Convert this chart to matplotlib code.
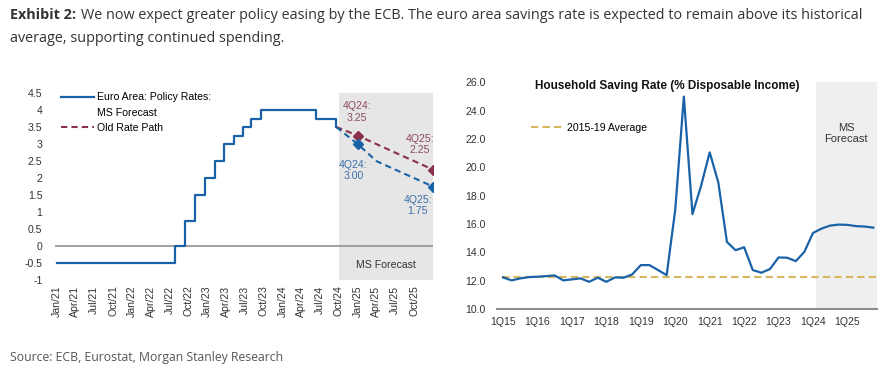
import numpy as np
import pandas as pd
import matplotlib
matplotlib.use('Agg')
import matplotlib.pyplot as plt
import matplotlib.dates as mdates
from matplotlib.lines import Line2D

plt.rcParams['font.family'] = ['Liberation Sans Narrow', 'Liberation Sans', 'DejaVu Sans']

# ---- left panel: ECB policy rate ----
rate_dates = ['2021-01-01', '2022-07-27', '2022-09-14', '2022-11-02', '2022-12-21',
              '2023-02-08', '2023-03-22', '2023-05-10', '2023-06-21', '2023-08-02',
              '2023-09-20', '2024-06-12', '2024-09-18']
rate_vals = [-0.5, 0.0, 0.75, 1.5, 2.0, 2.5, 3.0, 3.25, 3.5, 3.75, 4.0, 3.75, 3.5]

fcst_dates = ['2024-09-18', '2024-12-31', '2025-03-31', '2025-06-30', '2025-09-30', '2025-12-31']
ms_fcst = [3.5, 3.0, 2.5, 2.25, 2.0, 1.75]
old_path = [3.5, 3.25, 3.0, 2.75, 2.5, 2.25]

month_ticks = pd.date_range('2021-01-01', '2025-10-01', freq='3MS')

# ---- right panel: household saving rate ----
sav_quarters = [f'{q}Q{y:02d}' for y in range(15, 26) for q in range(1, 5)]
sav_rate = [12.23, 12.02, 12.16, 12.25, 12.28, 12.32, 12.37, 12.02, 12.09, 12.16,
            11.92, 12.21, 11.92, 12.23, 12.21, 12.44, 13.1, 13.1, 12.75, 12.39,
            17.0, 25.0, 16.7, 18.7, 21.06, 18.94, 14.74, 14.15, 14.36, 12.75,
            12.56, 12.82, 13.64, 13.62, 13.38, 14.04, 15.37, 15.68, 15.89, 15.96,
            15.94, 15.85, 15.82, 15.75]
avg_15_19 = 12.27

BLUE = '#1a62a8'
RED = '#8a3048'
GOLD = '#d8b660'
TXT = '#333333'
FS = 7.6

fig = plt.figure(figsize=(8.95, 3.77), dpi=100)

fig.text(0.011, 0.960, 'Exhibit 2:', fontsize=10.4, fontweight='bold', color=TXT,
         family='Open Sans', va='center')
fig.text(0.091, 0.960, 'We now expect greater policy easing by the ECB. The euro area savings rate is '
         'expected to remain above its historical', fontsize=10.4, color=TXT, family='Open Sans',
         va='center')
fig.text(0.011, 0.898, 'average, supporting continued spending.', fontsize=10.4, color=TXT,
         family='Open Sans', va='center')
fig.text(0.011, 0.053, 'Source: ECB, Eurostat, Morgan Stanley Research', fontsize=8.8,
         color='#555555', family='Open Sans', va='center')

# left
ax1 = fig.add_axes([0.0615, 0.2573, 0.4226, 0.496])
rd = pd.to_datetime(rate_dates)
fd = pd.to_datetime(fcst_dates)
x_end = pd.Timestamp('2026-01-02')
ax1.axvspan(pd.Timestamp('2024-10-01'), x_end, color='#e6e6e6', lw=0, zorder=0)
ax1.axhline(0, color='#999999', lw=1.3, zorder=1)
ax1.step(list(rd) + [pd.Timestamp('2024-09-18')], rate_vals + [3.5], where='post',
         color=BLUE, lw=1.6, zorder=3)
ax1.plot(fd, old_path, color=RED, lw=1.5, ls=(0, (3, 2)), marker='D', markersize=5,
         markevery=[1, 5], zorder=3)
ax1.plot(fd, ms_fcst, color=BLUE, lw=1.5, ls=(0, (3, 2)), marker='D', markersize=5,
         markevery=[1, 5], zorder=4)

ax1.text(pd.Timestamp('2024-12-28'), 3.95, '4Q24:\n3.25', color='#8d4b5c', fontsize=FS,
         ha='center', va='center', linespacing=1.2)
ax1.text(pd.Timestamp('2024-12-10'), 2.22, '4Q24:\n3.00', color='#3a6fa8', fontsize=FS,
         ha='center', va='center', linespacing=1.2)
ax1.text(pd.Timestamp('2025-10-28'), 2.99, '4Q25:\n2.25', color='#8d4b5c', fontsize=FS,
         ha='center', va='center', linespacing=1.2)
ax1.text(pd.Timestamp('2025-10-19'), 1.19, '4Q25:\n1.75', color='#3a6fa8', fontsize=FS,
         ha='center', va='center', linespacing=1.2)
ax1.text(pd.Timestamp('2025-05-19'), -0.57, 'MS Forecast', color=TXT, fontsize=FS,
         ha='center', va='center')

ax1.set_xlim(pd.Timestamp('2020-12-23'), x_end)
ax1.set_ylim(-1, 4.5)
ax1.set_yticks(np.arange(-1, 4.51, 0.5))
ax1.set_yticklabels([f'{v:g}' for v in np.arange(-1, 4.51, 0.5)])
ax1.set_xticks(month_ticks)
ax1.xaxis.set_major_formatter(mdates.DateFormatter('%b/%y'))
ax1.tick_params(axis='x', rotation=90, length=0, labelsize=FS, colors=TXT, pad=4)
ax1.tick_params(axis='y', length=0, labelsize=FS, colors=TXT, pad=9)
for s in ax1.spines.values():
    s.set_visible(False)

h1 = [Line2D([], [], color=BLUE, lw=1.6), Line2D([], [], color='none'),
      Line2D([], [], color=RED, lw=1.5, ls=(0, (3, 2)))]
ax1.legend(h1, ['Euro Area: Policy Rates:', 'MS Forecast', 'Old Rate Path'],
           loc='upper left', bbox_to_anchor=(0.01, 1.015), frameon=False, fontsize=FS,
           handlelength=3.1, handletextpad=0.3, labelspacing=0.5, borderaxespad=0,
           borderpad=0.2)

# right
ax2 = fig.add_axes([0.5553, 0.1804, 0.4243, 0.601])
xq = np.arange(len(sav_rate))
ax2.axvspan(36.4, 43.4, color='#efefef', lw=0, zorder=0)
ax2.hlines(avg_15_19, -0.1, 43.4, color=GOLD, lw=1.5, linestyles=(0, (3.5, 2)), zorder=2,
           label='2015-19 Average')
ax2.plot(xq, sav_rate, color=BLUE, lw=1.6, zorder=3)
ax2.text(39.85, 22.4, 'MS\nForecast', color=TXT, fontsize=8, ha='center', va='center',
         linespacing=1.2)
ax2.text(0.449, 0.985, 'Household Saving Rate (% Disposable Income)', transform=ax2.transAxes,
         fontsize=8.5, fontweight='bold', color='#111111', ha='center', va='center')

ax2.set_xlim(-0.7, 43.4)
ax2.set_ylim(10, 26)
ax2.set_yticks(np.arange(10, 26.1, 2))
ax2.set_yticklabels([f'{v:.1f}' for v in np.arange(10, 26.1, 2)])
ax2.set_xticks(xq[::4])
ax2.set_xticklabels(sav_quarters[::4])
ax2.tick_params(axis='x', length=0, labelsize=FS, colors=TXT, pad=6)
ax2.tick_params(axis='y', length=0, labelsize=FS, colors=TXT, pad=8)
for s in ['top', 'right', 'left']:
    ax2.spines[s].set_visible(False)
ax2.spines['bottom'].set_color('#8c8c8c')
ax2.spines['bottom'].set_linewidth(1.5)
ax2.legend(loc='upper left', bbox_to_anchor=(0.085, 0.83), frameon=False, fontsize=FS,
           handlelength=3.0, handletextpad=0.4, borderaxespad=0, borderpad=0.2)

fig.savefig('out.png', dpi=100)
